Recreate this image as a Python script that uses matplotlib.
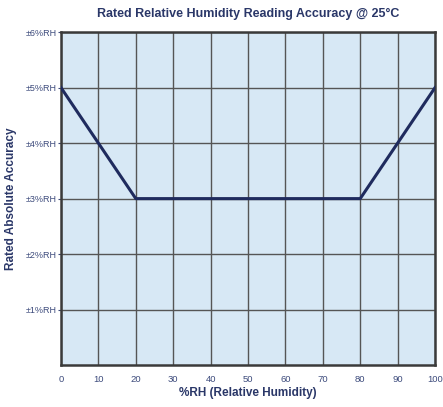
import matplotlib
matplotlib.use("Agg")
import matplotlib.pyplot as plt

# data
rh = [0, 20, 80, 100]
accuracy = [5, 3, 3, 5]
y_ticks = [1, 2, 3, 4, 5, 6]
y_labels = ["±1%RH", "±2%RH", "±3%RH", "±4%RH", "±5%RH", "±6%RH"]
x_ticks = [0, 10, 20, 30, 40, 50, 60, 70, 80, 90, 100]

navy = "#2a3768"
tick_col = "#3d4b7c"

plt.rcParams['font.family'] = ['Liberation Sans', 'DejaVu Sans']

fig = plt.figure(figsize=(4.43, 4.07), dpi=100)
ax = fig.add_axes([0.1377, 0.103, 0.8443, 0.818])
ax.set_facecolor("#d7e8f5")

ax.plot(rh, accuracy, color="#1f2b5e", linewidth=2.2, zorder=3)

ax.set_xlim(0, 100)
ax.set_ylim(0, 6)
ax.set_xticks(x_ticks)
ax.set_yticks(y_ticks)
ax.set_yticklabels(y_labels)
ax.grid(True, color="#555555", linewidth=1.0, zorder=1)
ax.set_axisbelow(True)
ax.tick_params(axis="y", length=2, labelsize=6.5, colors=tick_col, pad=1)
ax.tick_params(axis="x", length=0, labelsize=6.8, colors=tick_col, pad=7)
for s in ax.spines.values():
    s.set_color("#3a3a3a")
    s.set_linewidth(1.8)

ax.set_title("Rated Relative Humidity Reading Accuracy @ 25°C", fontsize=9,
             fontweight="bold", color=navy, pad=11)
ax.set_xlabel("%RH (Relative Humidity)", fontsize=8.5, fontweight="bold",
              color=navy, labelpad=2)
ax.set_ylabel("Rated Absolute Accuracy", fontsize=8.5, fontweight="bold",
              color=navy, labelpad=6)

fig.savefig("out.png", dpi=100)
